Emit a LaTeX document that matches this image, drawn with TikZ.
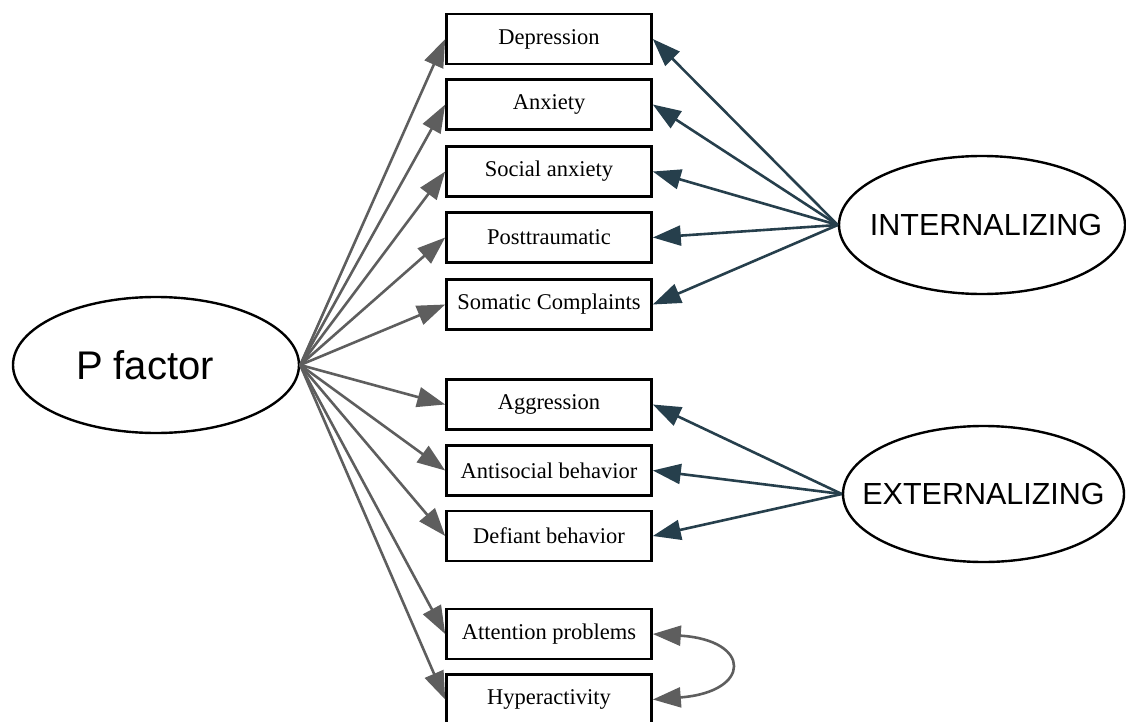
\documentclass[tikz,border=0pt]{standalone}
\usepackage{fontspec}
\setmainfont{Liberation Serif}
\newfontfamily\arialfont{Liberation Sans}
\usetikzlibrary{arrows.meta,shapes.geometric}
\definecolor{pgrey}{HTML}{5E5E5E}
\definecolor{slate}{HTML}{263F4C}
\begin{document}
\begin{tikzpicture}[x=1pt,y=-1pt,
  indicator/.style={draw=black,line width=2.6pt,minimum width=205pt,minimum height=50pt,
    inner sep=0pt,font=\fontsize{22.5}{26}\selectfont},
  latent/.style={draw=black,line width=2.4pt,ellipse,inner sep=0pt},
  head/.tip={Triangle[length=28pt,width=20pt]},
  pload/.style={-head,draw=pgrey,line width=2.6pt},
  sload/.style={-head,draw=slate,line width=2.6pt}]
\useasboundingbox (0,0) rectangle (1126,722);

% latent factors (text boxed at zero width so the ellipse keeps its given size)
\node[latent,minimum width=286pt,minimum height=136pt,font=\arialfont\fontsize{40}{44}\selectfont]
  (P) at (156,365) {\makebox[0pt]{P factor\hspace{22pt}}};
\node[latent,minimum width=286pt,minimum height=138pt,font=\arialfont\fontsize{30.5}{34}\selectfont]
  (INT) at (982,225) {\makebox[0pt]{\hspace{8pt}INTERNALIZING}};
\node[latent,minimum width=281pt,minimum height=136pt,font=\arialfont\fontsize{30.5}{34}\selectfont]
  (EXT) at (983.5,494) {\makebox[0pt]{EXTERNALIZING}};

% observed symptom scales
\node[indicator] (dep) at (549,39)    {Depression};
\node[indicator] (anx) at (549,104.5) {Anxiety};
\node[indicator] (soc) at (549,171.5) {Social anxiety};
\node[indicator] (ptsd) at (549,237.5) {Posttraumatic};
\node[indicator] (som) at (549,304.5) {Somatic Complaints};
\node[indicator] (agg) at (549,404.5) {Aggression};
\node[indicator] (ant) at (549,470.5) {Antisocial behavior};
\node[indicator] (def) at (549,536)   {Defiant behavior};
\node[indicator] (att) at (549,634)   {Attention problems};
\node[indicator] (hyp) at (549,699.5) {Hyperactivity};

% general factor loadings
\foreach \n in {dep,anx,soc,ptsd,som,agg,ant,def,att,hyp}
  \draw[pload] (P.east) -- (\n.west);

% specific factor loadings
\foreach \n in {dep,anx,soc,ptsd,som}
  \draw[sload] (INT.west) -- (\n.east);
\foreach \n in {agg,ant,def}
  \draw[sload] (EXT.west) -- (\n.east);

% residual covariance
\draw[pload,head-head]
  (att.east) .. controls (752,640) and (752,692) .. (hyp.east);
\end{tikzpicture}
\end{document}
